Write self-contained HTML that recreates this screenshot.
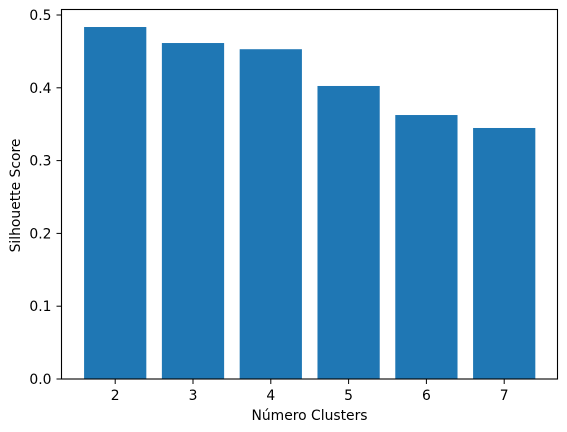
<!DOCTYPE html>
<html lang="es">
<head>
<meta charset="utf-8">
<title>Silhouette Score</title>
<style>
html,body{margin:0;padding:0;background:#fff;width:567px;height:432px;overflow:hidden}
svg{display:block}
text{font-family:"DejaVu Sans","Liberation Sans",sans-serif;font-size:13.89px;fill:#000}
</style>
</head>
<body>
<svg id="chart" xmlns="http://www.w3.org/2000/svg" width="567" height="432" viewBox="0 0 567 432">
  <rect x="0" y="0" width="567" height="432" fill="#ffffff"/>
  <g id="bars"></g>
  <g id="x-ticks"></g>
  <g id="y-ticks"></g>
  <rect x="61.5" y="9.5" width="496" height="369.5" fill="none" stroke="#000" stroke-width="1.1"/>
  <text x="309.5" y="420" text-anchor="middle">Número Clusters</text>
  <text transform="translate(20,195.5) rotate(-90)" text-anchor="middle">Silhouette Score</text>
</svg>
<script>
const categories = [2, 3, 4, 5, 6, 7];
const scores = [0.4835, 0.4615, 0.453, 0.4025, 0.3626, 0.3448];
const yTickLabels = ["0.0", "0.1", "0.2", "0.3", "0.4", "0.5"];

const NS = 'http://www.w3.org/2000/svg';
const barWidth = 0.8;
function xScale(v) { return 115.2 + (v - 2) * 77.8; }
function yScale(v) { return 379 - v * 728; }
function make(tag, attrs) {
  const el = document.createElementNS(NS, tag);
  for (const k in attrs) el.setAttribute(k, attrs[k]);
  return el;
}
const barsG = document.getElementById('bars');
const xG = document.getElementById('x-ticks');
const yG = document.getElementById('y-ticks');

categories.forEach(function (c, i) {
  const left = xScale(c - barWidth / 2);
  const right = xScale(c + barWidth / 2);
  const top = yScale(scores[i]);
  const bar = make('rect', { x: left, y: top, width: right - left, height: yScale(0) - top, fill: '#1f77b4' });
  
  
  barsG.appendChild(bar);

  const px = xScale(c);
  const tick = make('line', { x1: px, x2: px, y1: 379, y2: 384, stroke: '#000', 'stroke-width': 1 });
  
  
  xG.appendChild(tick);

  const label = make('text', { x: px, y: 400, 'text-anchor': 'middle' });
  
  
  label.textContent = String(c);
  xG.appendChild(label);
});

yTickLabels.forEach(function (t) {
  const py = yScale(parseFloat(t));
  const tick = make('line', { x1: 56.5, x2: 61.5, y1: py, y2: py, stroke: '#000', 'stroke-width': 1 });
  
  
  yG.appendChild(tick);

  const label = make('text', { x: 51.5, y: py + 5, 'text-anchor': 'end' });
  
  
  label.textContent = t;
  yG.appendChild(label);
});
</script>
</body>
</html>
